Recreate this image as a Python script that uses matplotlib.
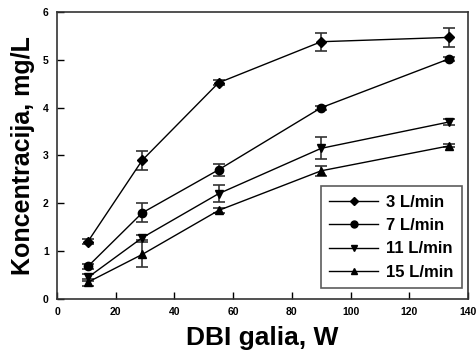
"""Koncentracija vs DBI galia"""
import matplotlib
matplotlib.use('Agg')
import matplotlib.pyplot as plt
from matplotlib.lines import Line2D
import numpy as np

plt.rcParams['font.family'] = ['Liberation Sans', 'DejaVu Sans']

#%% data
power = [10.5, 29, 55, 90, 133.5]
labels = ['3 L/min', '7 L/min', '11 L/min', '15 L/min']
c3 = [1.2, 2.9, 4.52, 5.38, 5.47]
c3_err = [0.05, 0.2, 0.05, 0.19, 0.2]
c7 = [0.68, 1.8, 2.7, 4.0, 5.02]
c7_err = [0.05, 0.2, 0.13, 0.04, 0.05]
c11 = [0.45, 1.28, 2.2, 3.15, 3.7]
c11_err = [0.08, 0.05, 0.18, 0.23, 0.07]
c15 = [0.35, 0.93, 1.85, 2.68, 3.2]
c15_err = [0.07, 0.26, 0.05, 0.1, 0.03]
markers = ['D', 'o', 'v', '^']

#%% plot
fig = plt.figure(figsize=(4.76, 3.55), dpi=100)
ax = fig.add_axes([0.12, 0.158, 0.863, 0.808])

handles = []
for y, err, m, lab in zip([c3, c7, c11, c15], [c3_err, c7_err, c11_err, c15_err], markers, labels):
    ms = 5 if m == 'D' else 6
    ax.errorbar(power, y, yerr=err, color='black', marker=m, lw=1,
                markersize=ms, ecolor='#333333', elinewidth=1.2,
                capsize=4, capthick=1.2)
    handles.append(Line2D([], [], color='black', marker=m, lw=1, markersize=ms - 1, label=lab))

ax.set_xlim(0, 140)
ax.set_ylim(0, 6)
ax.set_xticks(np.arange(0, 141, 20))
ax.set_yticks(np.arange(0, 7, 1))
ax.tick_params(direction='in', length=5, width=1, labelsize=7.5, pad=6)
for t in ax.get_xticklabels() + ax.get_yticklabels():
    t.set_fontweight('bold')
for s in ax.spines.values():
    s.set_linewidth(1.2)
    s.set_color('#333333')

ax.set_xlabel('DBI galia, W', fontsize=19, fontweight='bold', labelpad=6)
ax.set_ylabel('Koncentracija, mg/L', fontsize=18, fontweight='bold', labelpad=6)

leg = ax.legend(handles=handles, loc='lower right', prop={'weight': 'bold', 'size': 12},
                frameon=True, fancybox=False, edgecolor='#333333',
                handlelength=2.9, handletextpad=0.5, borderpad=0.5, labelspacing=0.5,
                borderaxespad=0, bbox_to_anchor=(0.985, 0.038))
leg.get_frame().set_linewidth(1.2)

fig.savefig('out.png', dpi=100)
